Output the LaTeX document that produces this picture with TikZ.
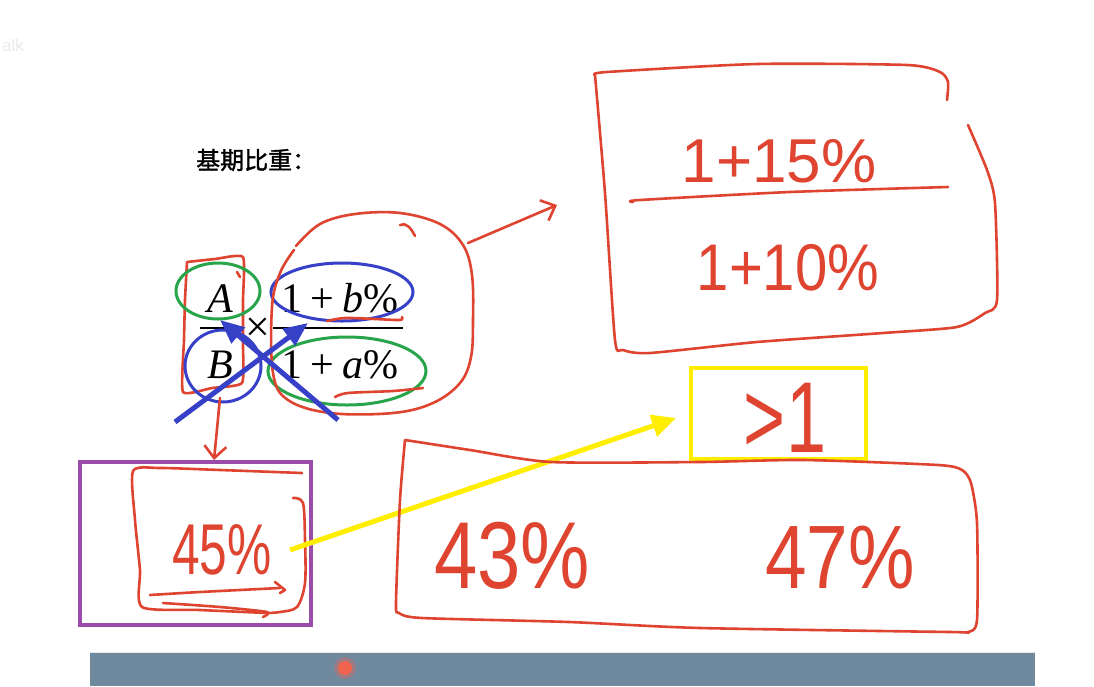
\documentclass[tikz,border=0pt]{standalone}
\usepackage{fontspec}
\usepackage{graphicx}
\setmainfont{Liberation Serif}
\newfontfamily\cjk[FakeBold=1.5]{Noto Sans CJK SC}
\newfontfamily\hand{Liberation Sans}
\usetikzlibrary{arrows.meta}
\definecolor{pen}{RGB}{222,68,48}
\definecolor{ringgreen}{RGB}{40,165,75}
\definecolor{ringblue}{RGB}{55,65,200}
\definecolor{hiyellow}{RGB}{255,238,0}
\definecolor{framepurple}{RGB}{155,75,170}
\definecolor{barblue}{RGB}{111,138,158}
\definecolor{dotred}{RGB}{240,100,80}
\tikzset{
  redpen/.style={draw=pen, line width=2.6pt, line cap=round, line join=round},
  redarrow/.style={redpen, -{Straight Barb[length=12pt,width=22pt,line width=2.6pt]}},
  handtext/.style={text=pen, inner sep=0pt, anchor=base},
  formula/.style={font=\fontsize{42}{42}\selectfont, inner sep=0pt, anchor=base},
  greenring/.style={draw=ringgreen, line width=3pt},
  bluering/.style={draw=ringblue, line width=3pt},
  bluearrow/.style={draw=ringblue, line width=5pt, -{Triangle[length=24pt,width=20pt]}},
  yellowarrow/.style={draw=hiyellow, line width=5pt, -{Triangle[length=24pt,width=22pt]}},
}
\begin{document}
\begin{tikzpicture}[x=1pt,y=-1pt]
\useasboundingbox (0,0) rectangle (1094,686);
\fill[white] (0,0) rectangle (1094,686);

% faint watermark
\node[text=black!8, font=\fontsize{17}{17}\selectfont\hand, anchor=east, inner sep=0] (wm) at (24,45) {alk};

% title
\node[font=\fontsize{24}{24}\selectfont\cjk, inner sep=0, anchor=west] (title) at (196,160) {基期比重：};

% ---------- formula ----------
\node[formula] (A) at (220,312) {\textit{A}};
\node[formula] (B) at (220,378) {\textit{B}};
\draw[line width=2.2pt] (200,328) -- (243,328);
\node[font=\fontsize{44}{44}\selectfont, inner sep=0] (times) at (258,330) {×};
\node[formula] (numb) at (340,312) {1\hspace{0.2em}+\hspace{0.2em}\textit{b}\%};
\node[formula] (dena) at (340,378) {1\hspace{0.2em}+\hspace{0.2em}\textit{a}\%};
\draw[line width=2.2pt] (273,328) -- (403,328);

% red hand rectangle around A/B
\draw[redpen] plot[smooth, tension=0.3] coordinates {(187,262) (215,259) (243,257) (243,300) (243,345) (242,383) (212,388) (183,392) (184,340) (185,300) (187,262)};
\draw[redpen] (237,272) -- (240,277);

% rings
\draw[greenring] (218,291) ellipse [x radius=42, y radius=28];
\draw[bluering] (223,366) ellipse [x radius=38, y radius=36];
\draw[bluering] (342,292) ellipse [x radius=71, y radius=29];
\draw[greenring] (347,371) ellipse [x radius=79, y radius=34];

% red underlines
\draw[redpen] plot[smooth] coordinates {(327,321) (345,318) (375,319) (400,320) (402,317)};
\draw[redpen] plot[smooth] coordinates {(335,397) (348,393) (393,391) (423,388)};

% red blob around right fraction
\draw[redpen] plot[smooth, tension=0.6] coordinates {(296,246) (320,224) (355,214) (400,213) (440,224) (463,245) (472,275) (473,320) (471,357) (460,383) (433,403) (393,413) (330,413) (288,400) (273,373) (272,307) (280,273) (294,250)};
\draw[redpen] (400,225) .. controls (406,222) and (411,228) .. (415,236);

% blue cross arrows
\coordinate (bs1) at (175,422);
\coordinate (be1) at (308,323);
\coordinate (bs2) at (338,420);
\coordinate (be2) at (220,320);
\draw[bluearrow] (bs1) -- (be1);
\draw[bluearrow] (bs2) -- (be2);

% red arrow to the top-right box
\coordinate (blobout) at (468,243);
\coordinate (boxin) at (557,205);
\draw[redarrow] (blobout) -- (boxin);

% red arrow down to the 45% box
\coordinate (rectout) at (220,398);
\coordinate (pboxin) at (214,460);
\draw[redarrow] (rectout) -- (pboxin);

% ---------- top right box ----------
\draw[redpen] plot[smooth, tension=0.4] coordinates {(595,75) (607,72) (757,64) (907,65) (940,72) (948,82) (947,100)};
\draw[redpen] plot[smooth, tension=0.4] coordinates {(968,125) (987,170) (995,203) (997,300) (985,313) (957,327) (883,333) (757,342) (650,353) (623,350) (615,340) (605,193) (595,75)};
\draw[redpen] plot[smooth, tension=0.4] coordinates {(633,202) (640,200) (790,192) (948,187)};
\node[handtext, font=\fontsize{62}{62}\selectfont\hand] (num) at (779,182) {1+15\%};
\node[handtext, font=\fontsize{66}{66}\selectfont\hand] (den) at (788,290) {\scalebox{0.88}[1]{1+10\%}};

% ---------- purple frame with 45% ----------
\draw[framepurple, line width=3.5pt] (80,462) rectangle (311,625);
\draw[redpen] plot[smooth, tension=0.4] coordinates {(302,473) (220,470) (160,468) (133,471) (135,520) (140,570) (142,607) (200,610) (267,613)};
\draw[redpen] plot[smooth, tension=0.5] coordinates {(293,498) (303,503) (305,540) (305,583) (297,607) (280,612) (267,613)};
\draw[redpen] plot[smooth, tension=0.4] coordinates {(150,595) (200,592) (280,588)};
\draw[redpen] (275,582) -- (285,590) -- (280,593);
\draw[redpen] plot[smooth, tension=0.4] coordinates {(163,603) (220,607) (267,612) (263,617)};
\node[handtext, font=\fontsize{72}{72}\selectfont\hand] (p45) at (222,574) {\scalebox{0.69}[1]{45\%}};

% ---------- yellow box with >1 ----------
\draw[hiyellow, line width=4pt] (691,368) rectangle (866,459);
\node[handtext, font=\fontsize{72}{72}\selectfont\hand] (gt1) at (785,452) {\scalebox{1}[1.4]{>1}};

% yellow arrow
\coordinate (yst) at (290,550);
\coordinate (yen) at (676,418);
\draw[yellowarrow] (yst) -- (yen);

% ---------- big box with 43% and 47% ----------
\draw[redpen] plot[smooth, tension=0.4] coordinates {(405,440) (470,450) (551,462) (700,462) (804,460) (938,465) (962,470) (971,483) (977,523) (977,620) (968,632) (950,632) (700,628) (569,622) (422,618) (399,613) (396,603) (400,500) (405,440)};
\node[handtext, font=\fontsize{95}{95}\selectfont\hand] (p43) at (512,588) {\scalebox{0.82}[1]{43\%}};
\node[handtext, font=\fontsize{90}{90}\selectfont\hand] (p47) at (840,588) {\scalebox{0.83}[1]{47\%}};

% ---------- bottom bar ----------
\fill[barblue] (90,652) rectangle (1035,686);
\draw[white!80!barblue, line width=1pt] (90,652.5) -- (1035,652.5);
\fill[dotred, opacity=0.35] (345,668) circle [radius=11];
\fill[dotred] (345,668) circle [radius=7];
\end{tikzpicture}
\end{document}
